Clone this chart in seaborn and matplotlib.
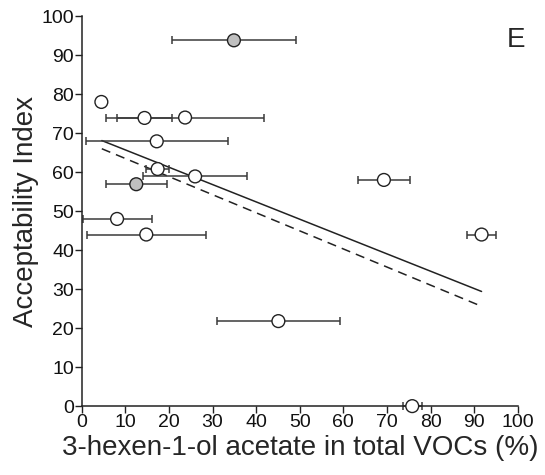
import matplotlib
matplotlib.use("Agg")
import matplotlib.pyplot as plt
import seaborn as sns
import pandas as pd
import numpy as np

sns.set_theme(style="ticks")
plt.rcParams['font.family'] = ['Liberation Sans', 'DejaVu Sans']

# Data
x_vals = [34.9, 4.5, 14.4, 23.7, 17.2, 17.4, 26.0, 12.5, 69.3, 8.1, 14.8, 91.7, 45.1, 75.8]
y_vals = [93.8, 78.0, 73.9, 74.0, 67.9, 60.8, 58.9, 56.9, 58.0, 48.0, 44.0, 44.0, 21.8, 0.0]
x_err = [14.2, 0.0, 6.3, 18.1, 16.3, 2.7, 12.0, 7.0, 6.0, 7.9, 13.7, 3.3, 14.1, 2.2]
group = ["grey", "open", "open", "open", "open", "open", "open", "grey", "open", "open", "open", "open", "open", "open"]

# Fitted lines (endpoints)
fit_x = [4.6, 91.7]
solid_y = [68.1, 29.4]
dashed_y = [66.0, 25.6]

df = pd.DataFrame({"x": x_vals, "y": y_vals, "xerr": x_err, "group": group})

fig = plt.figure(figsize=(5.45, 4.75), dpi=100)
ax = fig.add_axes([0.150, 0.145, 0.800, 0.821])

# error bars
for _, r in df.iterrows():
    if r.xerr > 0:
        ax.errorbar(r.x, r.y, xerr=r.xerr, fmt="none", ecolor="#3a3a3a",
                    elinewidth=1.1, capsize=3, capthick=1.1, clip_on=False, zorder=2)

# regression lines
sns.lineplot(x=fit_x, y=solid_y, ax=ax, color="#222222", linewidth=1.1, zorder=1)
sns.lineplot(x=fit_x, y=dashed_y, ax=ax, color="#222222", linewidth=1.1,
             linestyle=(0, (6, 4)), zorder=1)

sns.scatterplot(data=df, x="x", y="y", hue="group",
                palette={"grey": "#bfbfbf", "open": "white"},
                edgecolor="#222222", linewidth=1.0, s=85, ax=ax,
                legend=False, zorder=4, clip_on=False)

ax.set_xlim(0, 100)
ax.set_ylim(0, 100)
ax.set_xticks(np.arange(0, 101, 10))
ax.set_yticks(np.arange(0, 101, 10))
ax.tick_params(axis="both", direction="out", length=5, width=1, labelsize=14,
               pad=0.5, color="#222222", labelcolor="#111111")
sns.despine(ax=ax)
for s in ["left", "bottom"]:
    ax.spines[s].set_linewidth(1.1)
    ax.spines[s].set_color("#222222")

ax.set_xlabel("3-hexen-1-ol acetate in total VOCs (%)", fontsize=20, labelpad=3)
ax.set_ylabel("Acceptability Index", fontsize=20, labelpad=2)
ax.text(0.995, 0.938, "E", transform=ax.transAxes, fontsize=20, ha="center", va="center")

fig.savefig("out.png", dpi=100)
